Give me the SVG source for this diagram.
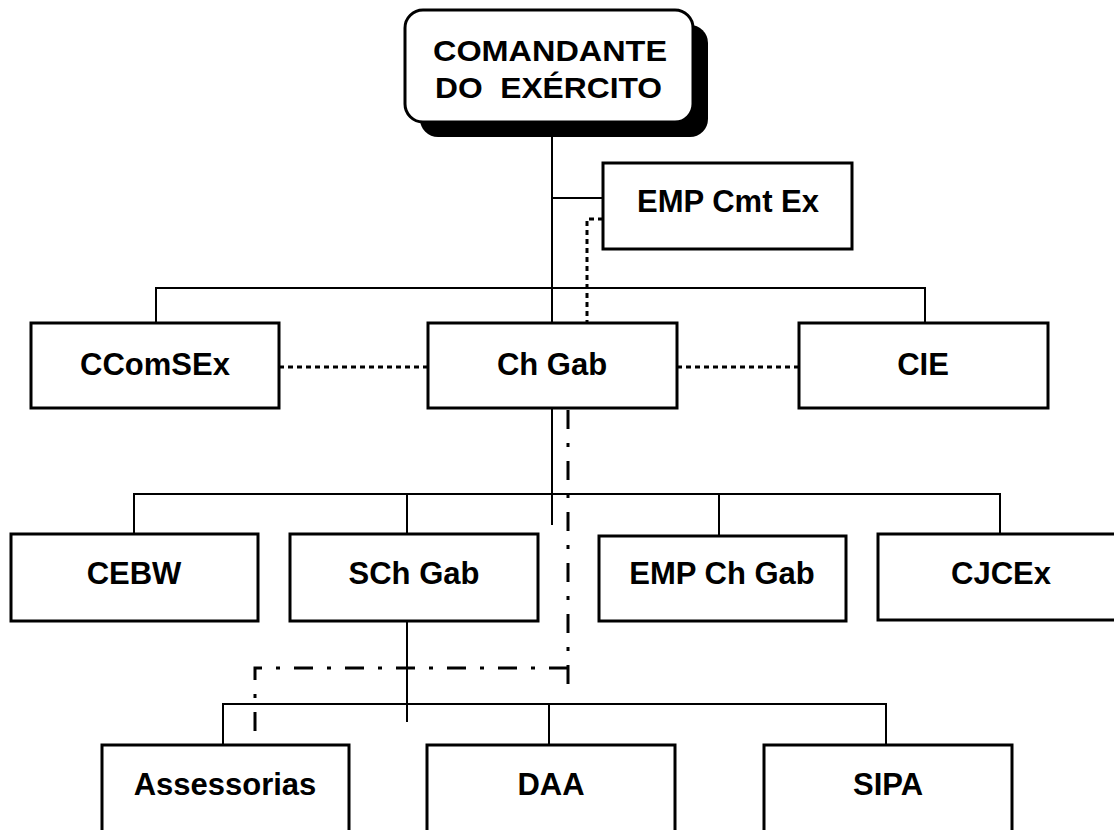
<svg xmlns="http://www.w3.org/2000/svg" width="1114" height="830" viewBox="0 0 1114 830">
  <style>
    .box { fill: #fff; stroke: #000; stroke-width: 3; }
    .lbl { font-family: "Liberation Sans", Arial, sans-serif; font-weight: bold; font-size: 31px; fill: #000; text-anchor: middle; }
    .ttl { font-family: "Liberation Sans", Arial, sans-serif; font-weight: bold; font-size: 30px; fill: #000; }
    .solid { fill: none; stroke: #000; stroke-width: 2; }
    .dot { fill: none; stroke: #000; stroke-width: 3; stroke-dasharray: 5 4; }
    .dashdot { fill: none; stroke: #000; stroke-width: 3; stroke-dasharray: 19 14 4 14; }
  </style>
  <rect width="1114" height="830" fill="#fff"/>
  <g id="connectors">
    <path class="solid" d="M552,137 V323"/>
    <path class="solid" d="M552,198 H603"/>
    <path class="solid" d="M156,323 V288 H925 V323"/>
    <path class="solid" d="M552,408 V525"/>
    <path class="solid" d="M134,534 V494 H1000 V534"/>
    <path class="solid" d="M407,494 V534"/>
    <path class="solid" d="M719,494 V536"/>
    <path class="solid" d="M407,621 V722"/>
    <path class="solid" d="M223,745 V704 H886 V745"/>
    <path class="solid" d="M549,704 V745"/>
    <path class="dot" d="M603,219 H587 V323"/>
    <path class="dot" d="M279,367 H428"/>
    <path class="dot" d="M677,367 H799"/>
    <path class="dashdot" d="M568,410 V690"/>
    <path class="dashdot" d="M568,668 H255 V745"/>
  </g>
  <g id="cmt">
    <rect x="420" y="25" width="288" height="112" rx="18" fill="#000"/>
    <rect class="box" x="405" y="10" width="288" height="112" rx="18"/>
    <text class="ttl" x="433" y="61" textLength="234" lengthAdjust="spacingAndGlyphs">COMANDANTE</text>
    <text class="ttl" x="435" y="98" textLength="227" lengthAdjust="spacingAndGlyphs" xml:space="preserve">DO  EXÉRCITO</text>
  </g>
  <g id="empcmtex">
    <rect class="box" x="603" y="163" width="249" height="86"/>
    <text class="lbl" x="728" y="212">EMP Cmt Ex</text>
  </g>
  <g id="ccomsex">
    <rect class="box" x="31" y="323" width="248" height="85"/>
    <text class="lbl" x="155" y="375">CComSEx</text>
  </g>
  <g id="chgab">
    <rect class="box" x="428" y="323" width="249" height="85"/>
    <text class="lbl" x="552" y="375">Ch Gab</text>
  </g>
  <g id="cie">
    <rect class="box" x="799" y="323" width="249" height="85"/>
    <text class="lbl" x="923" y="375">CIE</text>
  </g>
  <g id="cebw">
    <rect class="box" x="11" y="534" width="247" height="87"/>
    <text class="lbl" x="134" y="584">CEBW</text>
  </g>
  <g id="schgab">
    <rect class="box" x="290" y="534" width="248" height="87"/>
    <text class="lbl" x="414" y="584">SCh Gab</text>
  </g>
  <g id="empchgab">
    <rect class="box" x="599" y="536" width="247" height="85"/>
    <text class="lbl" x="722" y="584">EMP Ch Gab</text>
  </g>
  <g id="cjcex">
    <rect class="box" x="878" y="534" width="248" height="86"/>
    <text class="lbl" x="1001" y="584">CJCEx</text>
  </g>
  <g id="assessorias">
    <rect class="box" x="102" y="745" width="247" height="90"/>
    <text class="lbl" x="225" y="795">Assessorias</text>
  </g>
  <g id="daa">
    <rect class="box" x="427" y="745" width="248" height="90"/>
    <text class="lbl" x="551" y="795">DAA</text>
  </g>
  <g id="sipa">
    <rect class="box" x="764" y="745" width="248" height="90"/>
    <text class="lbl" x="888" y="795">SIPA</text>
  </g>
</svg>
